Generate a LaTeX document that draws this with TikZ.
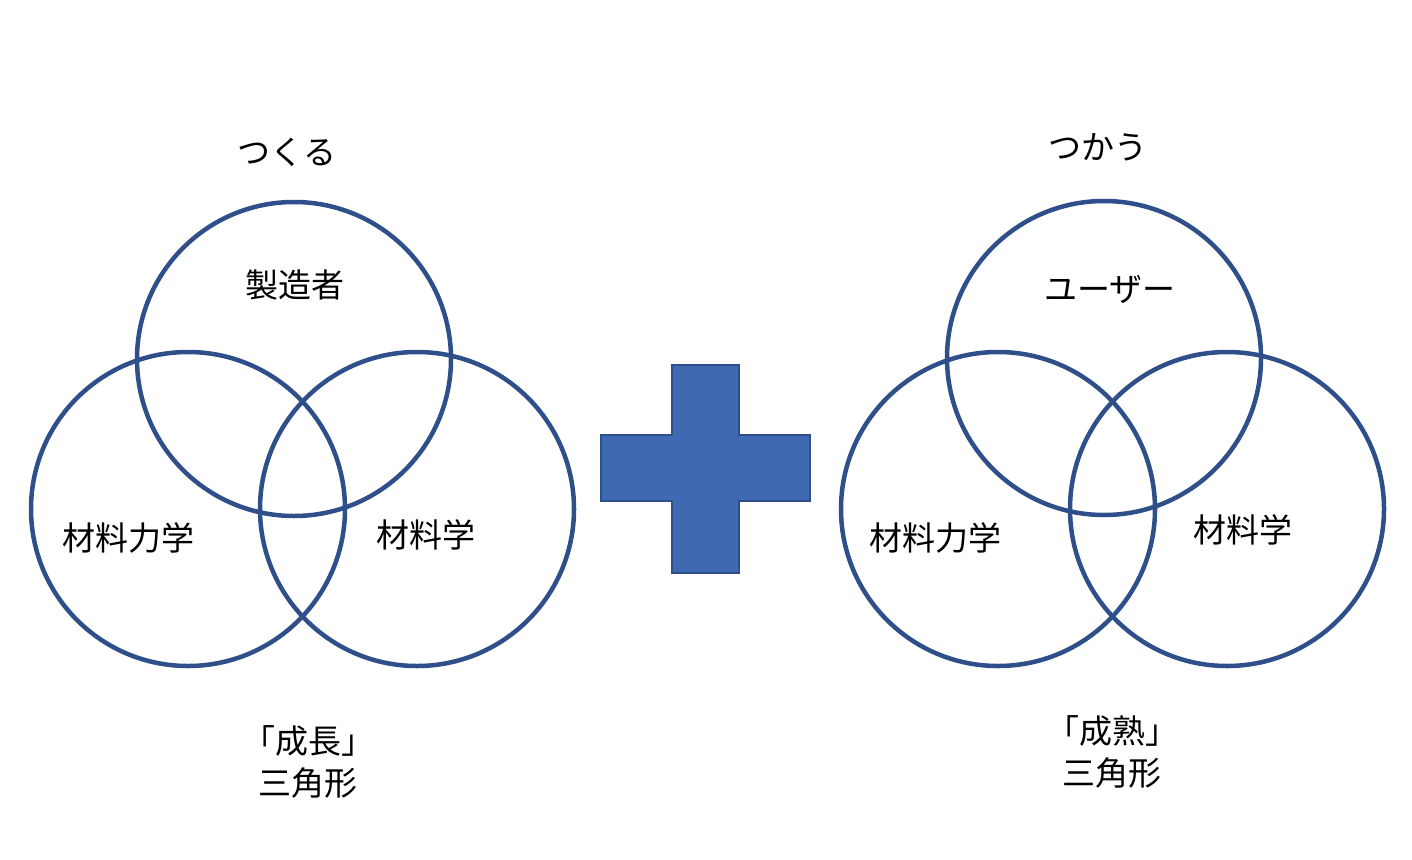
\documentclass[tikz,border=0pt]{standalone}
\usepackage{fontspec}
\setmainfont{Noto Sans CJK JP}
\begin{document}
\begin{tikzpicture}[x=1pt,y=-1pt,
  ring/.style={draw=ringc,line width=4.5pt},
  lbl/.style={font=\fontsize{33}{42}\selectfont,align=center,inner sep=0pt}]
\definecolor{ringc}{HTML}{2F4F8A}
\definecolor{plusc}{HTML}{3F69B0}
\useasboundingbox (0,0) rectangle (1412,859);
\node[ring,circle,minimum size=314pt] (c1) at (294,359) {};
\node[ring,circle,minimum size=314pt] (c2) at (188,509) {};
\node[ring,circle,minimum size=314pt] (c3) at (417,509) {};
\node[ring,circle,minimum size=314pt] (d1) at (1104,358) {};
\node[ring,circle,minimum size=314pt] (d2) at (998,509) {};
\node[ring,circle,minimum size=314pt] (d3) at (1227,509) {};
\path[fill=plusc,draw=ringc,line width=1.5pt]
 (672,365) -- (739,365) -- (739,435) -- (810,435) -- (810,501) -- (739,501)
 -- (739,573) -- (672,573) -- (672,501) -- (601,501) -- (601,435) -- (672,435) -- cycle;
\node[lbl] (t1) at (287,152) {つくる};
\node[lbl] (a1) at (295,285) {製造者};
\node[lbl] (a2) at (128,538) {材料力学};
\node[lbl] (a3) at (426,535) {材料学};
\node[lbl] (b1) at (308,762) {「成長」\\三角形};
\node[lbl] (t2) at (1098,147) {つかう};
\node[lbl] (e1) at (1110,289) {ユーザー};
\node[lbl] (e2) at (935,538) {材料力学};
\node[lbl] (e3) at (1243,530) {材料学};
\node[lbl] (b2) at (1112,752) {「成熟」\\三角形};
\end{tikzpicture}
\end{document}
